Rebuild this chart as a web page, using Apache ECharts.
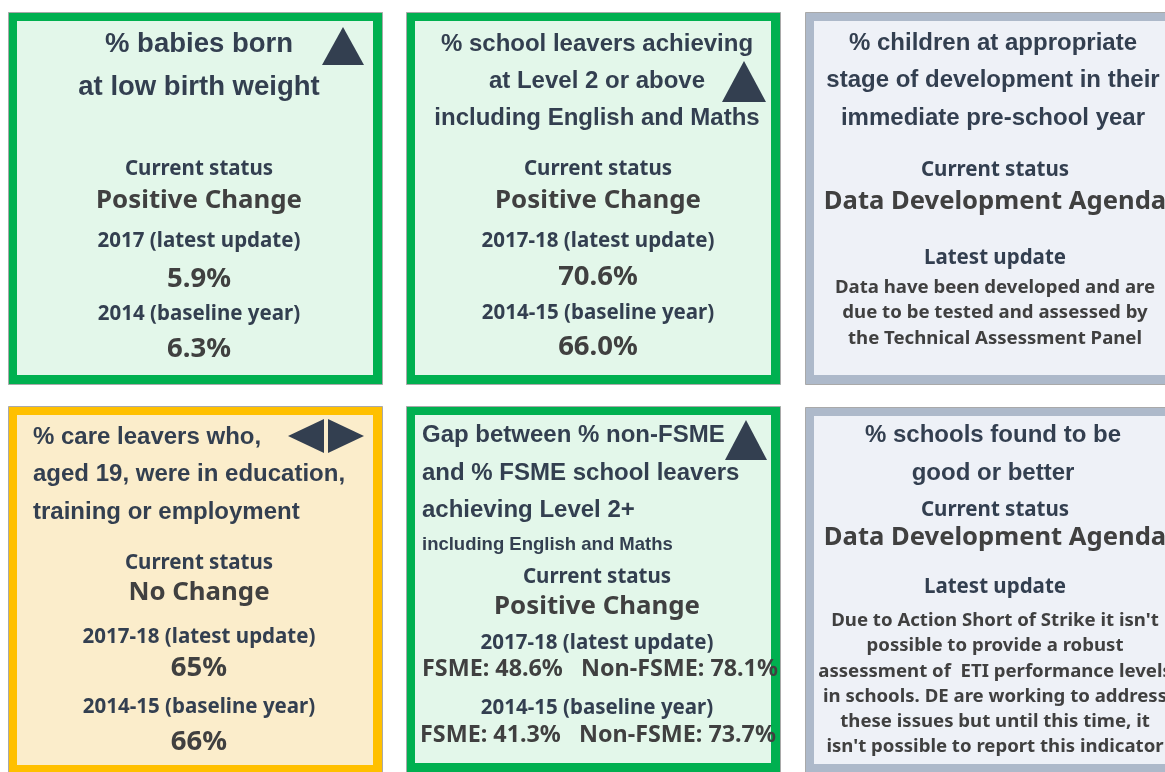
<!DOCTYPE html>
<html lang="en">
<head>
    <meta charset="UTF-8">
    <title>Indicator status cards</title>
    <script src="https://cdn.jsdelivr.net/npm/echarts@6/dist/echarts.min.js"></script>
    <style>
    html, body {
        margin: 0;
        padding: 0;
        background: #ffffff;
    }
    #main {
        width: 1165px;
        height: 772px;
    }
    </style>
</head>
<body>
    <div id="main"></div>
    <script type="text/javascript">
    // card content
    var cardTitles = [
        ['% babies born', 'at low birth weight'],
        ['% school leavers achieving', 'at Level 2 or above', 'including English and Maths'],
        ['% children at appropriate', 'stage of development in their', 'immediate pre-school year'],
        ['% care leavers who,', 'aged 19, were in education,', 'training or employment'],
        ['Gap between % non-FSME', 'and % FSME school leavers', 'achieving Level 2+'],
        ['% schools found to be', 'good or better']
    ];
    var subTitles = [null, null, null, null, 'including English and Maths', null];
    var statuses = ['Positive Change', 'Positive Change', 'Data Development Agenda',
        'No Change', 'Positive Change', 'Data Development Agenda'];
    var trends = ['up', 'up', null, 'flat', 'up', null];
    var latestLabels = ['2017 (latest update)', '2017-18 (latest update)', 'Latest update',
        '2017-18 (latest update)', '2017-18 (latest update)', 'Latest update'];
    var latestValues = ['5.9%', '70.6%', null, '65%', null, null];
    var baselineLabels = ['2014 (baseline year)', '2014-15 (baseline year)', null,
        '2014-15 (baseline year)', '2014-15 (baseline year)', null];
    var baselineValues = ['6.3%', '66.0%', null, '66%', null, null];
    // gap indicator: FSME / non-FSME
    var fsmeLatest = ['48.6%', '78.1%'];
    var fsmeBaseline = ['41.3%', '73.7%'];
    var notes = [null, null,
        ['Data have been developed and are', 'due to be tested and assessed by', 'the Technical Assessment Panel'],
        null, null,
        ["Due to Action Short of Strike it isn't", 'possible to provide a robust',
            'assessment of  ETI performance levels', 'in schools. DE are working to address',
            'these issues but until this time, it', "isn't possible to report this indicator"]];

    // look of each status
    var themes = {
        'Positive Change': { border: '#00b050', fill: '#e3f7ea' },
        'No Change': { border: '#ffc000', fill: '#fbedcb' },
        'Data Development Agenda': { border: '#adb9ca', fill: '#eef1f7' }
    };

    var TITLE_FONT = '"Liberation Sans", Arial, sans-serif';
    var BODY_FONT = '"Noto Sans", "Open Sans", sans-serif';
    var DARK = '#333f50';
    var GREY = '#404040';

    // where things go on each card
    var layout = [
        { x: 8, y: 12, w: 374, h: 372, cx: 199, tx: 199, ta: 'center', ts: 27.5,
          titleY: [44, 87], statusY: [169, 201], latY: [241, 279], baseY: [314, 349] },
        { x: 406, y: 12, w: 374, h: 372, cx: 598, tx: 597, ta: 'center', ts: 24,
          titleY: [44, 81, 118], statusY: [169, 201], latY: [241, 277], baseY: [313, 347] },
        { x: 805, y: 12, w: 374, h: 372, cx: 995, tx: 993, ta: 'center', ts: 24,
          titleY: [43, 80, 118], statusY: [170, 202], latY: [258], noteY: 288 },
        { x: 8, y: 406, w: 374, h: 368, cx: 199, tx: 33, ta: 'left', ts: 24,
          titleY: [437, 474, 512], statusY: [563, 593], latY: [637, 668], baseY: [707, 742] },
        { x: 406, y: 406, w: 374, h: 366, cx: 597, tx: 422, ta: 'left', ts: 24,
          titleY: [435, 473, 510], subY: 545, statusY: [577, 607], latY: [643, 669], baseY: [708, 735] },
        { x: 805, y: 407, w: 374, h: 366, cx: 995, tx: 993, ta: 'center', ts: 24,
          titleY: [435, 473], statusY: [510, 538], latY: [587], noteY: 621 }
    ];

    var text = function(str, x, y, size, family, color, align) {
        return {
            type: 'text',
            z: 10,
            style: {
                text: str,
                x: x,
                y: y,
                font: 'bold ' + size + 'px ' + family,
                fill: color,
                textAlign: align || 'center',
                textVerticalAlign: 'middle'
            }
        };
    };

    var poly = function(points) {
        return { type: 'polygon', z: 10, shape: { points: points }, style: { fill: DARK } };
    };

    var elements = [];

    for (var i = 0; i < layout.length; i++) {
        var L = layout[i];
        var theme = themes[statuses[i]];
        var bw = 9;

        // frame
        elements.push({
            type: 'rect',
            shape: { x: L.x + 0.5, y: L.y + 0.5, width: L.w, height: L.h },
            style: { fill: theme.border, stroke: '#a9a9a9', lineWidth: 1 }
        });
        elements.push({
            type: 'rect',
            shape: { x: L.x + bw, y: L.y + bw, width: L.w - 2 * bw, height: L.h - 2 * bw },
            style: { fill: theme.fill }
        });

        // title
        for (var t = 0; t < cardTitles[i].length; t++) {
            elements.push(text(cardTitles[i][t], L.tx, L.titleY[t], L.ts, TITLE_FONT, DARK, L.ta));
        }
        if (subTitles[i]) {
            elements.push(text(subTitles[i], L.tx, L.subY, 18.5, TITLE_FONT, DARK, L.ta));
        }

        // status
        elements.push(text('Current status', L.cx, L.statusY[0], 20.5, BODY_FONT, DARK));
        elements.push(text(statuses[i], L.cx, L.statusY[1], statuses[i] === 'Data Development Agenda' ? 25.6 : 25.8, BODY_FONT, GREY));

        // latest / baseline
        elements.push(text(latestLabels[i], L.cx, L.latY[0], 20.5, BODY_FONT, DARK));
        if (latestValues[i]) {
            elements.push(text(latestValues[i], L.cx, L.latY[1], 27.5, BODY_FONT, GREY));
        }
        if (baselineLabels[i]) {
            elements.push(text(baselineLabels[i], L.cx, L.baseY[0], 20.5, BODY_FONT, DARK));
        }
        if (baselineValues[i]) {
            elements.push(text(baselineValues[i], L.cx, L.baseY[1], 27.5, BODY_FONT, GREY));
        }
        if (i === 4) {
            elements.push(text('FSME: ' + fsmeLatest[0] + '   Non-FSME: ' + fsmeLatest[1],
                L.cx + 3, L.latY[1], 23.3, BODY_FONT, GREY));
            elements.push(text('FSME: ' + fsmeBaseline[0] + '   Non-FSME: ' + fsmeBaseline[1],
                L.cx + 1, L.baseY[1], 23.3, BODY_FONT, GREY));
        }

        // notes
        if (notes[i]) {
            for (var n = 0; n < notes[i].length; n++) {
                elements.push(text(notes[i][n], L.cx, L.noteY + n * 25.2, 18.6, BODY_FONT, GREY));
            }
        }
    }

    // trend markers
    elements.push(poly([[322, 65], [343, 27], [364, 65]]));
    elements.push(poly([[722, 102], [744, 61], [766, 102]]));
    elements.push(poly([[725, 460], [746, 420], [767, 460]]));
    elements.push(poly([[288, 436], [324, 419], [324, 453]]));
    elements.push(poly([[328, 419], [328, 453], [364, 436]]));

    var chart = echarts.init(document.getElementById('main'), null, { renderer: 'canvas' });
    chart.setOption({
        animation: false,
        graphic: { elements: elements }
    });
    </script>
</body>
</html>
